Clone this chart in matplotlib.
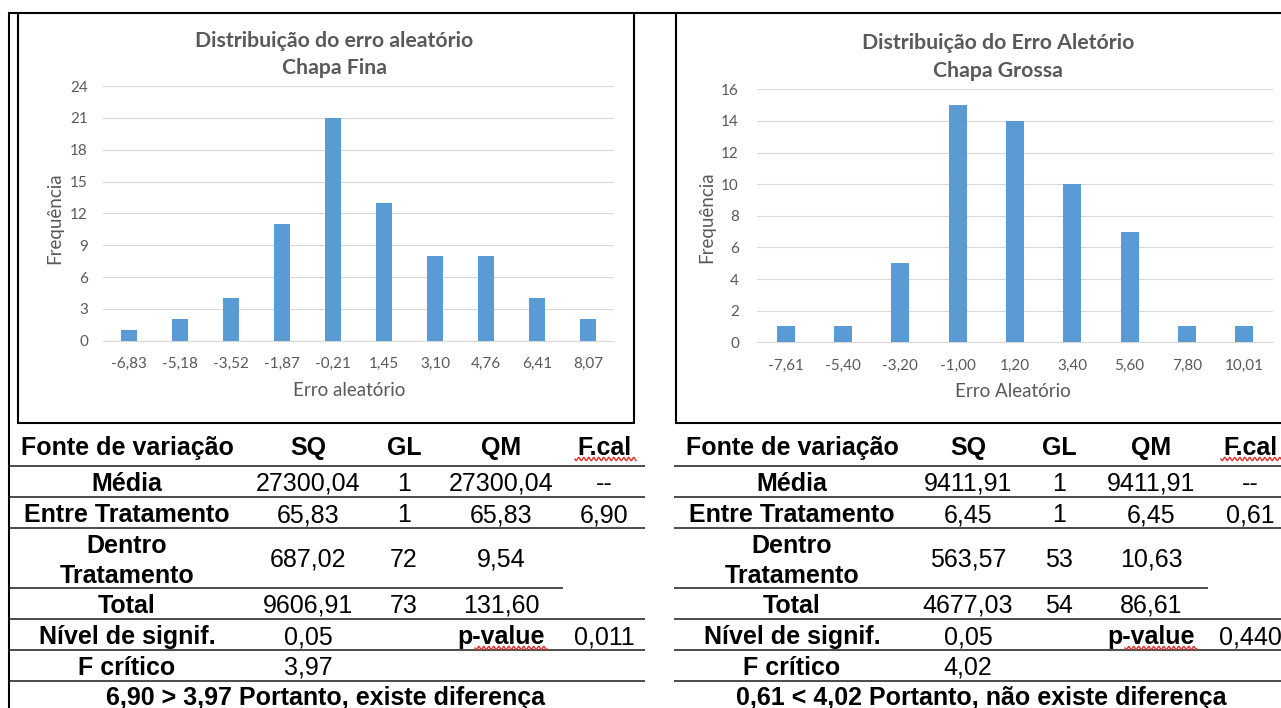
import numpy as np
import matplotlib
matplotlib.use("Agg")
import matplotlib.pyplot as plt

# ---- histogram data -------------------------------------------------------
fina_bins = ["-6,83", "-5,18", "-3,52", "-1,87", "-0,21", "1,45", "3,10", "4,76", "6,41", "8,07"]
fina_freq = [1, 2, 4, 11, 21, 13, 8, 8, 4, 2]

grossa_bins = ["-7,61", "-5,40", "-3,20", "-1,00", "1,20", "3,40", "5,60", "7,80", "10,01"]
grossa_freq = [1, 1, 5, 15, 14, 10, 7, 1, 1]

# ---- ANOVA tables -----------------------------------------------------------
header = ["Fonte de variação", "SQ", "GL", "QM", "F.cal"]
anova_rows = ["Média", "Entre Tratamento", "Dentro\nTratamento", "Total"]

fina_sq = [27300.04, 65.83, 687.02, 9606.91]
fina_gl = [1, 1, 72, 73]
fina_qm = [27300.04, 65.83, 9.54, 131.60]
fina_fcal = 6.90
fina_alpha = 0.05
fina_pvalue = 0.011
fina_fcrit = 3.97

grossa_sq = [9411.91, 6.45, 563.57, 4677.03]
grossa_gl = [1, 1, 53, 54]
grossa_qm = [9411.91, 6.45, 10.63, 86.61]
grossa_fcal = 0.61
grossa_alpha = 0.05
grossa_pvalue = 0.440
grossa_fcrit = 4.02

BAR = "#5B9BD5"
GREY = "#595959"
GRID = "#D9D9D9"
CHART_FONT = "Lato"
TABLE_FONT = "Liberation Sans"

W, H = 1281, 708
fig = plt.figure(figsize=(W / 100, H / 100), dpi=100)

# pixel-space canvas for frames, tables and titles
canvas = fig.add_axes([0, 0, 1, 1])
canvas.set_xlim(0, W)
canvas.set_ylim(H, 0)
canvas.axis("off")


def fmt(v, d=2):
    return f"{v:.{d}f}".replace(".", ",")


def hline(y, x0, x1, lw=1.1, color="#1a1a1a"):
    canvas.plot([x0, x1], [y, y], color=color, lw=lw, solid_capstyle="butt")


def vline(x, y0, y1, lw=1.5, color="black"):
    canvas.plot([x, x], [y0, y1], color=color, lw=lw, solid_capstyle="butt")


def squiggle(x0, x1, y):
    xs = np.linspace(x0, x1, 300)
    ys = y + 1.6 * np.sin(2 * np.pi * (xs - x0) / 5.0)
    canvas.plot(xs, ys, color="#E0322C", lw=1.0)


# frames around the charts
vline(9, 13, H)
hline(13, 8, W, lw=1.5, color="black")
vline(18, 13, 423)
vline(634, 13, 423)
hline(423, 17, 635, lw=1.5, color="black")
vline(676, 13, 423)
hline(423, 675, W, lw=1.5, color="black")


def histogram(rect, bins, freq, ymax, ystep, xlabel, ylab_xy, xlab_xy, ypad):
    x0, x1, top, bottom = rect
    ax = fig.add_axes([x0 / W, 1 - bottom / H, (x1 - x0) / W, (bottom - top) / H])
    ax.set_facecolor("none")
    pos = np.arange(len(bins))
    ax.bar(pos, freq, width=0.313, color=BAR, zorder=3)
    ax.set_xlim(-0.5, len(bins) - 0.5)
    ax.set_ylim(0, ymax)
    ax.set_yticks(np.arange(0, ymax + 1, ystep))
    ax.set_xticks(pos, bins)
    ax.grid(axis="y", color=GRID, lw=0.8, zorder=0)
    for s in ["top", "right", "left"]:
        ax.spines[s].set_visible(False)
    ax.spines["bottom"].set_color(GRID)
    ax.spines["bottom"].set_linewidth(0.8)
    ax.tick_params(axis="both", length=0, labelsize=11, labelcolor=GREY)
    ax.tick_params(axis="y", pad=ypad)
    ax.tick_params(axis="x", pad=12)
    for lab in ax.get_xticklabels() + ax.get_yticklabels():
        lab.set_family(CHART_FONT)
    ax.set_ylabel("Frequência", fontsize=13.5, color=GREY, family=CHART_FONT, va="center")
    ax.yaxis.set_label_coords(*ylab_xy)
    ax.set_xlabel(xlabel, fontsize=13.5, color=GREY, family=CHART_FONT, va="center")
    ax.xaxis.set_label_coords(*xlab_xy)
    return ax


histogram((103, 614, 86, 340.7), fina_bins, fina_freq, 24, 3,
          "Erro aleatório", (-0.094, 0.482), (0.481, -0.197), 10.8)
histogram((757, 1273, 89.3, 342.3), grossa_bins, grossa_freq, 16, 2,
          "Erro Aleatório", (-0.097, 0.494), (0.496, -0.194), 13)

# chart titles
for cx, lines, bases in [
    (334, ["Distribuição do erro aleatório", "Chapa Fina"], [47, 74]),
    (998, ["Distribuição do Erro Aletório", "Chapa Grossa"], [49, 77]),
]:
    for s, b in zip(lines, bases):
        canvas.text(cx, b, s, ha="center", va="baseline", fontsize=15.3,
                    fontweight="bold", color=GREY, family=CHART_FONT)


def cell(x, y, s, bold=False):
    canvas.text(x, y, s, ha="center", va="baseline", fontsize=18,
                fontweight="bold" if bold else "normal", family=TABLE_FONT,
                color="black")


def anova_table(x0, x1, partial_end, cols, sq, gl, qm, fcal, alpha, pvalue, fcrit, concl_x):
    cl, csq, cgl, cqm, cf = cols
    # rules between rows
    for y in [466, 497, 528, 619, 650, 681]:
        hline(y, x0, x1)
    hline(588, x0, partial_end)

    for x, s in zip(cols, header):
        cell(x, 455, s, bold=True)
    squiggle(cf - 29, cf + 32, 459)

    bases = [491, 522, 567, 613]
    for i, (lab, b) in enumerate(zip(anova_rows, bases)):
        if "\n" in lab:
            top, bot = lab.split("\n")
            cell(cl, 553, top, bold=True)
            cell(cl, 583, bot, bold=True)
        else:
            cell(cl, b, lab, bold=True)
        cell(csq, b, fmt(sq[i]))
        cell(cgl, b, str(gl[i]))
        cell(cqm, b, fmt(qm[i]))
    cell(cf, 491, "--")
    cell(cf, 522, fmt(fcal))

    cell(cl, 644, "Nível de signif.", bold=True)
    cell(csq, 644, fmt(alpha))
    cell(cqm, 644, "p-value", bold=True)
    squiggle(cqm - 26, cqm + 46, 648)
    cell(cf, 644, fmt(pvalue, 3))

    cell(cl, 675, "F crítico", bold=True)
    cell(csq, 675, fmt(fcrit))

    if fcal > fcrit:
        concl = f"{fmt(fcal)} > {fmt(fcrit)} Portanto, existe diferença"
    else:
        concl = f"{fmt(fcal)} < {fmt(fcrit)} Portanto, não existe diferença"
    cell(concl_x, 705, concl, bold=True)


anova_table(8, 645, 563, (127, 308, 404, 501, 604),
            fina_sq, fina_gl, fina_qm, fina_fcal, fina_alpha, fina_pvalue, fina_fcrit, 326)
anova_table(674, W, 1208, (792, 968, 1059, 1151, 1250),
            grossa_sq, grossa_gl, grossa_qm, grossa_fcal, grossa_alpha, grossa_pvalue, grossa_fcrit, 981)

fig.savefig("out.png", dpi=100)
